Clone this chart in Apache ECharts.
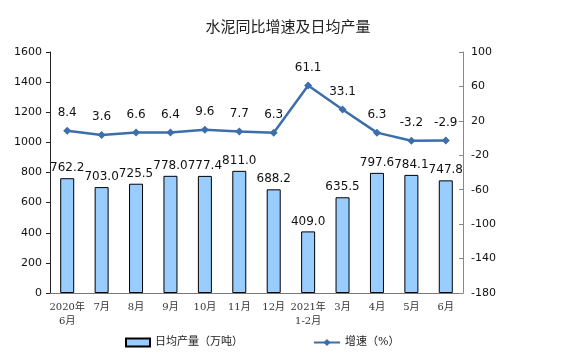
<!DOCTYPE html>
<html><head><meta charset="utf-8">
<script src="https://cdn.jsdelivr.net/npm/echarts@6/dist/echarts.min.js"></script>
<style>html,body{margin:0;padding:0;background:#fff}#c{width:576px;height:356px}</style>
</head><body><div id="c"></div>
<script>
var categories = ['2020年\n6月','7月','8月','9月','10月','11月','12月','2021年\n1-2月','3月','4月','5月','6月'];
var output = [762.2,703.0,725.5,778.0,777.4,811.0,688.2,409.0,635.5,797.6,784.1,747.8];
var growth = [8.4,3.6,6.6,6.4,9.6,7.7,6.3,61.1,33.1,6.3,-3.2,-2.9];
var leftTicks = {min:0,max:1600,interval:200};
var rightTicks = {min:-180,max:100,interval:40};
var chart = echarts.init(document.getElementById('c'));
var serif = 'DejaVu Serif, Noto Sans CJK SC';
chart.setOption({
  animation:false,
  title:{text:'水泥同比增速及日均产量',left:'center',top:14,textStyle:{fontSize:15,fontWeight:'normal',color:'#222',fontFamily:'Noto Sans CJK SC'}},
  grid:{left:50,right:113,top:52,bottom:63},
  legend:[
    {data:[{name:'日均产量（万吨）',icon:'rect'}],left:120,top:332,itemWidth:24,itemHeight:8,textStyle:{fontSize:11,color:'#222',fontFamily:serif}},
    {data:['增速（%）'],left:308,top:332,itemWidth:26,itemHeight:9,textStyle:{fontSize:11,color:'#222',fontFamily:serif}}
  ],
  xAxis:{type:'category',data:categories,
    axisLine:{lineStyle:{color:'#777'}},
    axisTick:{inside:true,length:4,lineStyle:{color:'#777'}},
    axisLabel:{fontSize:10,color:'#333',fontFamily:serif,interval:0,margin:7,lineHeight:14}},
  yAxis:[
    {type:'value',min:leftTicks.min,max:leftTicks.max,interval:leftTicks.interval,
      axisLine:{show:true,lineStyle:{color:'#222'}},axisTick:{show:true,length:4,lineStyle:{color:'#222'}},
      splitLine:{show:false},axisLabel:{fontSize:11,color:'#111',fontFamily:'DejaVu Sans',margin:8,formatter:function(v){return String(v);}}},
    {type:'value',min:rightTicks.min,max:rightTicks.max,interval:rightTicks.interval,position:'right',
      axisLine:{show:true,lineStyle:{color:'#888'}},axisTick:{show:true,inside:true,length:4,lineStyle:{color:'#888'}},
      splitLine:{show:false},axisLabel:{fontSize:11,color:'#111',fontFamily:'DejaVu Sans',margin:8,formatter:function(v){return String(v);}}}
  ],
  series:[
    {name:'日均产量（万吨）',type:'bar',data:output,barWidth:14,
      itemStyle:{color:'#99CCFF',borderColor:'#000',borderWidth:1},
      label:{show:true,position:'top',fontSize:12,color:'#111',fontFamily:'DejaVu Sans',distance:4,formatter:function(p){return p.value.toFixed(1);}}},
    {name:'增速（%）',type:'line',yAxisIndex:1,data:growth,symbol:'diamond',symbolSize:8,
      lineStyle:{color:'#3B6EAA',width:2.5},itemStyle:{color:'#3B6EAA'},
      label:{show:true,position:'top',fontSize:12,color:'#111',fontFamily:'DejaVu Sans',distance:8,formatter:function(p){return p.value.toFixed(1);}}}
  ]
});
</script></body></html>
